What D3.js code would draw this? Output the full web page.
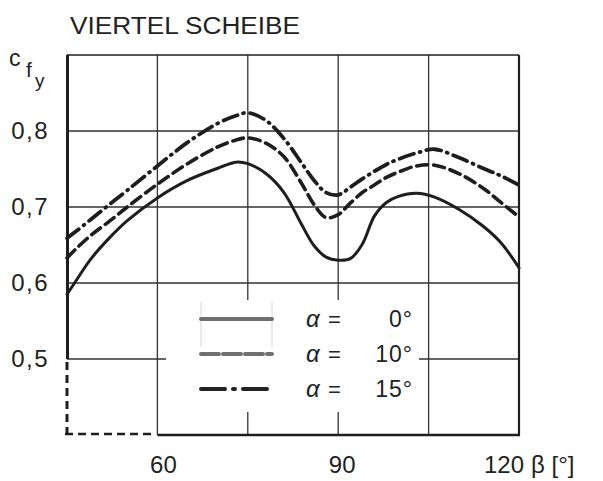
<!DOCTYPE html>
<html>
<head>
<meta charset="utf-8">
<script src="https://cdn.jsdelivr.net/npm/d3@7"></script>
<style>
  html, body { margin: 0; padding: 0; background: #fff; }
  svg text { font-family: "Liberation Sans", Arial, sans-serif; fill: #222; }
</style>
</head>
<body>
<div id="chart"></div>
<script>
// Angle beta [deg] at which the coefficients are sampled
const beta = [45, 46.5, 49, 52, 55, 60, 65, 70, 73, 75, 78, 81, 84, 86, 88, 90, 92, 94, 96, 98, 100, 103, 106, 110, 114, 117, 120];

// c_fy for the quarter disc, one series per alpha
const cfAlpha0  = [0.585, 0.603, 0.632, 0.659, 0.682, 0.712, 0.735, 0.751, 0.759, 0.757, 0.744, 0.719, 0.676, 0.649, 0.634, 0.630, 0.632, 0.651, 0.688, 0.706, 0.714, 0.718, 0.713, 0.697, 0.675, 0.653, 0.620];
const cfAlpha10 = [0.633, 0.645, 0.663, 0.681, 0.700, 0.730, 0.757, 0.779, 0.788, 0.791, 0.784, 0.766, 0.730, 0.703, 0.686, 0.690, 0.705, 0.719, 0.729, 0.739, 0.746, 0.754, 0.755, 0.744, 0.725, 0.706, 0.687];
const cfAlpha15 = [0.659, 0.668, 0.684, 0.703, 0.722, 0.754, 0.785, 0.810, 0.820, 0.824, 0.814, 0.790, 0.757, 0.735, 0.719, 0.716, 0.726, 0.737, 0.747, 0.756, 0.763, 0.771, 0.776, 0.765, 0.751, 0.741, 0.729];

const seriesNames = ["0°", "10°", "15°"];
const xTicks = [60, 90, 120];
const xTickLabels = ["60", "90", "120"];
const yTicks = [0.5, 0.6, 0.7, 0.8];
const yTickLabels = ["0,5", "0,6", "0,7", "0,8"];

const W = 603, H = 481;
const svg = d3.select("#chart").append("svg").attr("width", W).attr("height", H);

const x = d3.scaleLinear().domain([45, 120]).range([67, 519]);
const y = d3.scaleLinear().domain([0.4, 0.9]).range([435, 55]);

const ink = "#1e1e1e";

// Grid: vertical lines every 15 deg, horizontal lines every 0.1
const gridX = [60, 75, 90, 105];
const grid = svg.append("g").attr("stroke", "#333").attr("stroke-width", 1.3);
gridX.forEach(v => {
  grid.append("line").attr("x1", x(v)).attr("x2", x(v)).attr("y1", y(0.9)).attr("y2", y(0.4));
});
[0.6, 0.7, 0.8].forEach(v => {
  grid.append("line").attr("x1", x(45)).attr("x2", x(120)).attr("y1", y(v)).attr("y2", y(v));
});
// 0.5 line, broken by the legend
grid.append("line").attr("x1", x(45)).attr("x2", 166).attr("y1", y(0.5)).attr("y2", y(0.5));
grid.append("line").attr("x1", 419).attr("x2", x(120)).attr("y1", y(0.5)).attr("y2", y(0.5));

// Frame
const frame = svg.append("g").attr("stroke", ink).attr("fill", "none");
frame.append("line").attr("x1", x(45)).attr("x2", x(120)).attr("y1", y(0.9)).attr("y2", y(0.9)).attr("stroke-width", 1.5);
frame.append("line").attr("x1", x(120)).attr("x2", x(120)).attr("y1", y(0.9)).attr("y2", y(0.4)).attr("stroke-width", 2.2);
frame.append("line").attr("x1", x(60)).attr("x2", x(120) + 1).attr("y1", y(0.4)).attr("y2", y(0.4)).attr("stroke-width", 2.4);
frame.append("line").attr("x1", x(45) + 0.5).attr("x2", x(45) + 0.5).attr("y1", y(0.9)).attr("y2", y(0.5)).attr("stroke-width", 3);
// broken axis part below 0.5 and left of 60
frame.append("line").attr("x1", x(45)).attr("x2", x(45)).attr("y1", y(0.5) + 3).attr("y2", y(0.4) - 1)
  .attr("stroke-width", 3).attr("stroke-dasharray", "8,5");
frame.append("line").attr("x1", x(45) - 2).attr("x2", x(60) - 2).attr("y1", y(0.4) - 1).attr("y2", y(0.4) - 1)
  .attr("stroke-width", 2.6).attr("stroke-dasharray", "8,5");

// Legend area hides the grid behind it
svg.append("rect").attr("x", 166).attr("y", 300).attr("width", 253).attr("height", 112).attr("fill", "#fff");

// Curves
const line = d3.line().x(d => x(d[0])).y(d => y(d[1])).curve(d3.curveCatmullRom.alpha(0.5));
const styles = [
  { dash: null, width: 3 },
  { dash: "11,6", width: 3.6 },
  { dash: "15,6,1,6", width: 3.8 }
];
const allSeries = [cfAlpha0, cfAlpha10, cfAlpha15];
allSeries.forEach((vals, i) => {
  svg.append("path")
    .datum(beta.map((b, k) => [b, vals[k]]))
    .attr("d", line)
    .attr("fill", "none")
    .attr("stroke", ink)
    .attr("stroke-width", styles[i].width)
    .attr("stroke-linecap", "round")
    .attr("stroke-dasharray", styles[i].dash);
});

// Legend
const legendY = [319, 354, 389];
const legendColors = ["#6e6e6e", "#707070", "#222"];
const legendDash = [null, "18,4", "24,8,2,8"];
svg.append("g").attr("stroke", "#d4d4d4").attr("stroke-width", 1)
  .selectAll("line").data([201, 272]).join("line")
  .attr("x1", d => d).attr("x2", d => d).attr("y1", 302).attr("y2", 347);
seriesNames.forEach((name, i) => {
  svg.append("line")
    .attr("x1", 201).attr("x2", 272).attr("y1", legendY[i]).attr("y2", legendY[i])
    .attr("stroke", legendColors[i]).attr("stroke-width", 4)
    .attr("stroke-linecap", "round")
    .attr("stroke-dasharray", legendDash[i]);
  svg.append("text").attr("x", 306).attr("y", legendY[i] + 8)
    .attr("font-size", 24).attr("font-style", "italic").text("α");
  svg.append("text").attr("x", 328).attr("y", legendY[i] + 8)
    .attr("font-size", 22).text("=");
  svg.append("text").attr("x", 413).attr("y", legendY[i] + 8)
    .attr("text-anchor", "end").attr("font-size", 23).attr("letter-spacing", 1).text(name);
});

// Y tick labels
yTicks.forEach((v, i) => {
  svg.append("text").attr("x", 49).attr("y", y(v) + 8)
    .attr("text-anchor", "end").attr("font-size", 24).attr("letter-spacing", 1.5).text(yTickLabels[i]);
});

// X tick labels (the last one sits left of the unit)
const xOffsets = [6, 4, 5];
xTicks.forEach((v, i) => {
  const last = i === xTicks.length - 1;
  svg.append("text")
    .attr("x", x(v) + xOffsets[i])
    .attr("y", 473)
    .attr("text-anchor", last ? "end" : "middle")
    .attr("font-size", 24).text(xTickLabels[i]);
});
svg.append("text").attr("x", 531).attr("y", 473).attr("font-size", 24).text("β [°]");

// Axis title c_fy
svg.append("text").attr("x", 9).attr("y", 66).attr("font-size", 23).text("c");
svg.append("text").attr("x", 26).attr("y", 77).attr("font-size", 21).text("f");
svg.append("text").attr("x", 35).attr("y", 87).attr("font-size", 19).text("y");

// Title
svg.append("text").attr("x", 70).attr("y", 34).attr("font-size", 23)
  .attr("textLength", 230).attr("lengthAdjust", "spacingAndGlyphs").text("VIERTEL SCHEIBE");
</script>
</body>
</html>
